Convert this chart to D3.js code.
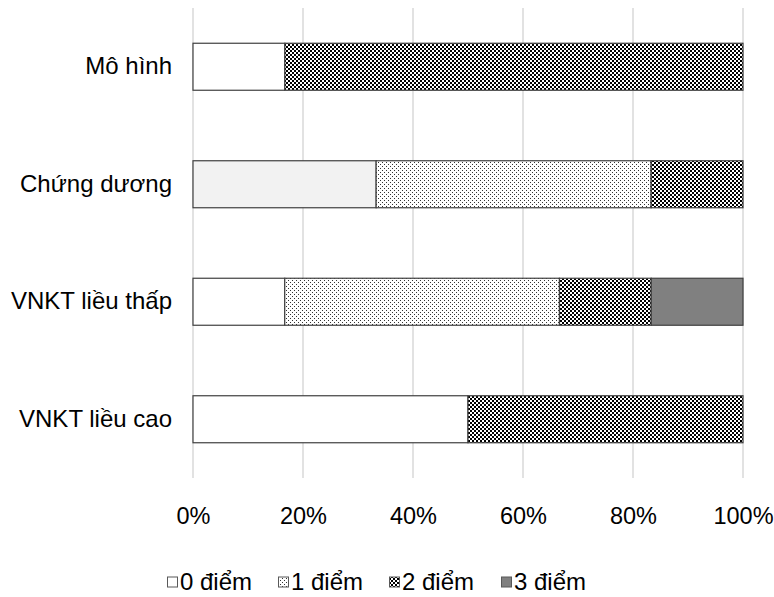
<!DOCTYPE html>
<html><head><meta charset="utf-8">
<script src="https://cdn.jsdelivr.net/npm/d3@7"></script>
<style>body{margin:0;background:#fff}svg{display:block}text{font-family:"Liberation Sans",Arial,sans-serif;fill:#000}</style>
</head><body><svg id="c" width="774" height="597"></svg>
<script>
const categories = ["Mô hình", "Chứng dương", "VNKT liều thấp", "VNKT liều cao"];
const seriesNames = ["0 điểm", "1 điểm", "2 điểm", "3 điểm"];
const s0 = [16.7, 33.3, 16.7, 50.0];
const s1 = [0, 50.0, 50.0, 0];
const s2 = [83.3, 16.7, 16.7, 50.0];
const s3 = [0, 0, 16.7, 0];
const xTicks = [0, 0.2, 0.4, 0.6, 0.8, 1.0];

const svg = d3.select("#c");
const defs = svg.append("defs");
const p1 = defs.append("pattern").attr("id","dots").attr("patternUnits","userSpaceOnUse").attr("width",4).attr("height",4);
p1.append("rect").attr("width",4).attr("height",4).attr("fill","#fff");
p1.append("rect").attr("x",0).attr("y",0).attr("width",1).attr("height",1).attr("fill","#333");
p1.append("rect").attr("x",2).attr("y",2).attr("width",1).attr("height",1).attr("fill","#333");
const p2 = defs.append("pattern").attr("id","check").attr("patternUnits","userSpaceOnUse").attr("width",4).attr("height",4);
p2.append("rect").attr("width",4).attr("height",4).attr("fill","#fff");
p2.append("rect").attr("x",0).attr("y",0).attr("width",2).attr("height",2).attr("fill","#000");
p2.append("rect").attr("x",2).attr("y",2).attr("width",2).attr("height",2).attr("fill","#000");

const fills = ["#ffffff", "url(#dots)", "url(#check)", "#808080"];

const x = d3.scaleLinear().domain([0,1]).range([193,743]);
const y = d3.scaleBand().domain(categories).range([8,478]).paddingInner(0.6).paddingOuter(0.3);

svg.append("g").selectAll("line").data(xTicks).join("line")
  .attr("x1",d=>x(d)).attr("x2",d=>x(d)).attr("y1",8).attr("y2",478)
  .attr("stroke","#d9d9d9").attr("stroke-width",1.5);

const rows = categories.map((c,i)=>({cat:c, v:[s0[i],s1[i],s2[i],s3[i]]}));
const segs = [];
rows.forEach((r)=>{
  const tot = d3.sum(r.v); let acc = 0;
  r.v.forEach((v,si)=>{
    if (v>0) segs.push({cat:r.cat, si, x0:acc/tot, x1:(acc+v)/tot});
    acc += v;
  });
});
svg.append("g").selectAll("rect").data(segs).join("rect")
  .attr("x",d=>x(d.x0)).attr("width",d=>x(d.x1)-x(d.x0))
  .attr("y",d=>y(d.cat)).attr("height",y.bandwidth())
  .attr("fill",d=> (d.si===0 && d.cat==="Chứng dương") ? "#f2f2f2" : fills[d.si])
  .attr("stroke","#404040").attr("stroke-width",1.2);

const xAxis = d3.axisBottom(x).tickValues(xTicks).tickFormat(d3.format(".0%")).tickSize(0).tickPadding(0);
const gx = svg.append("g").attr("transform","translate(0,507)").call(xAxis);
gx.select(".domain").remove();
gx.selectAll("text").attr("font-size",23.5).attr("font-family","Liberation Sans, Arial, sans-serif").attr("fill","#000");

const yAxis = d3.axisLeft(y).tickSize(0).tickPadding(0);
const gy = svg.append("g").attr("transform","translate(172,0)").call(yAxis);
gy.select(".domain").remove();
gy.selectAll("text").attr("font-size",24).attr("font-family","Liberation Sans, Arial, sans-serif").attr("fill","#000");

const legX = [167, 278, 389, 501];
const lg = svg.append("g");
seriesNames.forEach((n,i)=>{
  const g = lg.append("g").attr("transform",`translate(${legX[i]},582)`);
  g.append("rect").attr("x",0.5).attr("y",-5).attr("width",10).attr("height",10)
    .attr("fill",fills[i]).attr("stroke","#595959").attr("stroke-width",1);
  g.append("text").attr("x",13).attr("y",0).attr("dy","0.35em").attr("font-size",24).text(n);
});
</script></body></html>
